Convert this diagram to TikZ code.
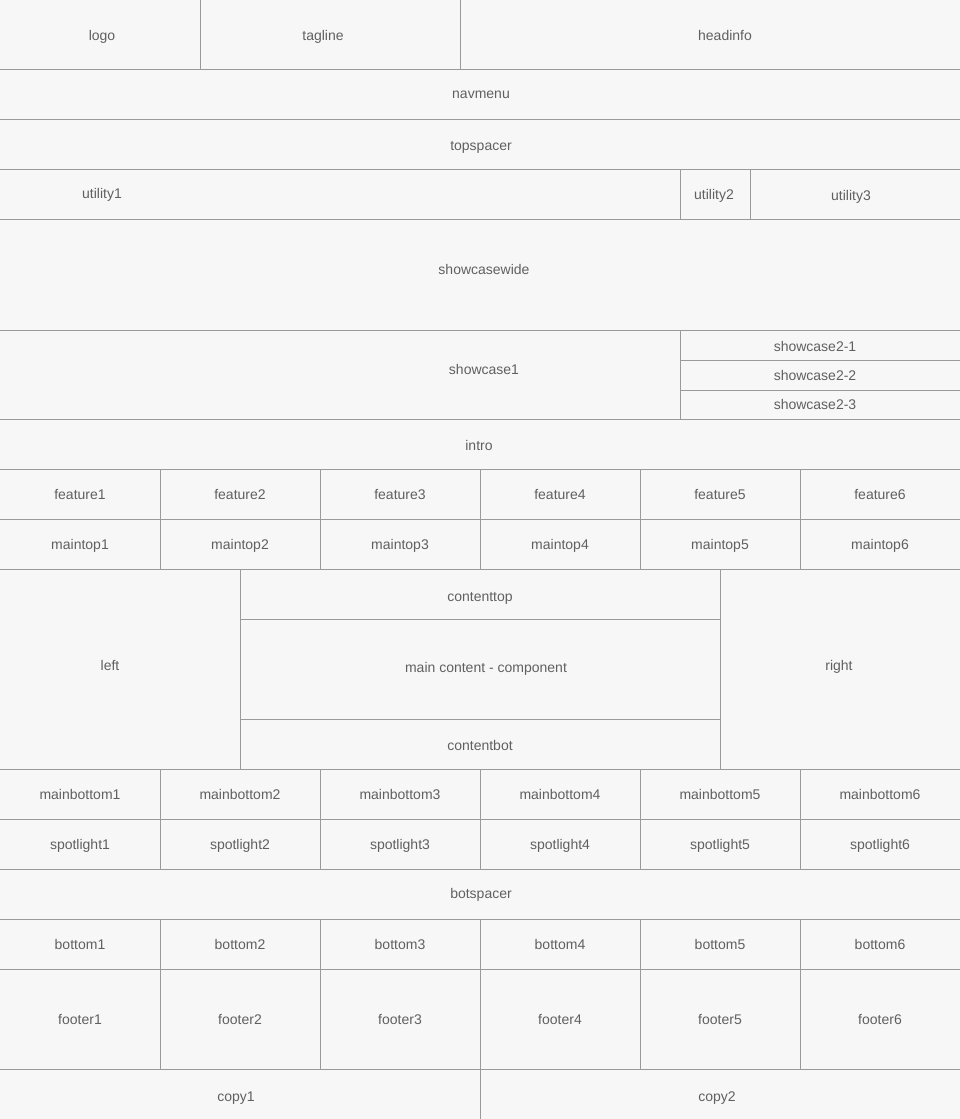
\documentclass[tikz,border=0pt]{standalone}
\usepackage{fontspec}
\setmainfont{Liberation Sans}
\usetikzlibrary{positioning}
\definecolor{pagebg}{HTML}{F7F7F7}
\definecolor{gridline}{HTML}{9A9A9A}
\definecolor{labeltext}{HTML}{606060}

\begin{document}
\begin{tikzpicture}[x=1pt, y=-1pt,
    cell/.style={draw=gridline, line width=1pt},
    lbl/.style={text=labeltext, font=\fontsize{14}{16}\selectfont, inner sep=0pt, text height=10pt, text depth=3pt, yshift=-2pt}]
    \useasboundingbox (0,0) rectangle (960,1119);
    % Page background
    \fill[pagebg] (0,0) rectangle (960,1119);
    \clip (0,0) rectangle (960,1119);

    % Single blocks (outer edges pushed past the page)
    \foreach \n/\xa/\ya/\xb/\yb/\lx/\ly/\t in {logo/-3/-3/200/69/102/35/logo, tagline/200/-3/460/69/323/35/tagline, headinfo/460/-3/963/69/725/35/headinfo, navmenu/-3/69/963/119/481/93/navmenu, topspacer/-3/119/963/169/481/145/topspacer, utility1/-3/169/680/219/102/193/utility1, utility2/680/169/750/219/714/194/utility2, utility3/750/169/963/219/851/195/utility3, showcasewide/-3/219/963/330/484/269/showcasewide, showcase1/-3/330/680/419/484/369/showcase1, showcase21/680/330/963/360/815/346/showcase2-1, showcase22/680/360/963/390/815/375/showcase2-2, showcase23/680/390/963/419/815/404/showcase2-3, intro/-3/419/963/469/479/445/intro, left/-3/569/240/769/110/665/left, contenttop/240/569/720/619/480/596/contenttop, maincontent/240/619/720/719/486/667/main content - component, contentbot/240/719/720/769/480/745/contentbot, right/720/569/963/769/839/665/right, botspacer/-3/869/963/919/481/893/botspacer, copy1/-3/1069/480/1122/236/1096/copy1, copy2/480/1069/963/1122/717/1096/copy2} {
      \draw[cell] (\xa,\ya) rectangle (\xb,\yb);
      \node[lbl] (\n) at (\lx,\ly) {\t};
    }

    % Rows of six
    \foreach \rw/\ya/\yb in {feature/469/519, maintop/519/569, mainbottom/769/819, spotlight/819/869, bottom/919/969, footer/969/1069} {
      \foreach \i in {1,...,6} {
        \draw[cell] ({(\i-1)*160-3*(\i==1)},\ya) rectangle ({\i*160+3*(\i==6)},\yb);
        \node[lbl] (\rw\i) at ({(\i-0.5)*160},{(\ya+\yb)/2}) {\rw\i};
      }
    }
\end{tikzpicture}
\end{document}
